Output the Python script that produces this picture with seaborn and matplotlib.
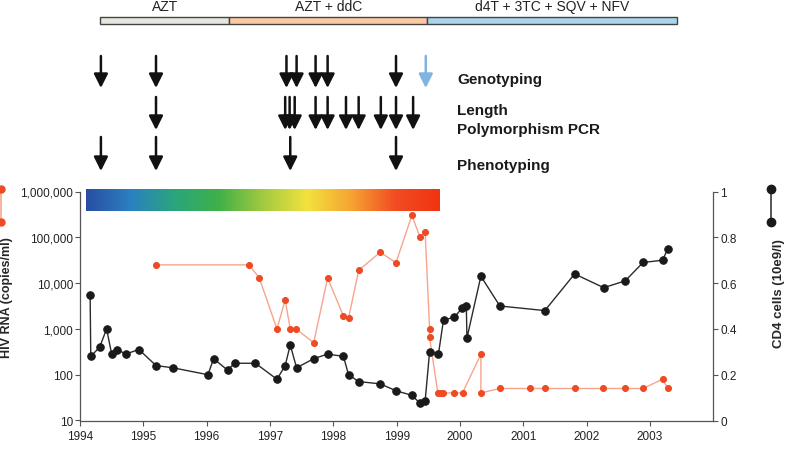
import numpy as np
import matplotlib
matplotlib.use("Agg")
import matplotlib.pyplot as plt
import seaborn as sns
from matplotlib.patches import Rectangle
from matplotlib.lines import Line2D
from matplotlib.colors import LinearSegmentedColormap
from matplotlib.transforms import blended_transform_factory
from matplotlib.ticker import NullLocator

# ---------------- data ----------------
cd4_years = [1994.16, 1994.17, 1994.31, 1994.42, 1994.50, 1994.59, 1994.72, 1994.93,
             1995.20, 1995.47, 1996.02, 1996.11, 1996.33, 1996.44, 1996.77, 1997.11,
             1997.24, 1997.32, 1997.42, 1997.69, 1997.91, 1998.16, 1998.24, 1998.40,
             1998.74, 1998.99, 1999.24, 1999.37, 1999.45, 1999.52, 1999.66, 1999.74,
             1999.91, 2000.03, 2000.10, 2000.11, 2000.33, 2000.63, 2001.34, 2001.81,
             2002.27, 2002.61, 2002.89, 2003.20, 2003.28]
cd4_vals = [0.55, 0.28, 0.32, 0.40, 0.29, 0.31, 0.29, 0.31, 0.24, 0.23, 0.20, 0.27,
            0.22, 0.25, 0.25, 0.18, 0.24, 0.33, 0.23, 0.27, 0.29, 0.28, 0.20, 0.17,
            0.16, 0.13, 0.11, 0.075, 0.085, 0.30, 0.29, 0.44, 0.45, 0.49, 0.50, 0.36,
            0.63, 0.50, 0.48, 0.64, 0.58, 0.61, 0.69, 0.70, 0.75]

rna_years = [1995.20, 1996.67, 1996.83, 1997.11, 1997.24, 1997.32, 1997.41, 1997.69,
             1997.91, 1998.16, 1998.24, 1998.40, 1998.74, 1998.99, 1999.24, 1999.37,
             1999.45, 1999.52, 1999.52, 1999.65, 1999.70, 1999.73, 1999.91, 2000.04,
             2000.33, 2000.33, 2000.63, 2001.11, 2001.34, 2001.81, 2002.26, 2002.61,
             2002.89, 2003.20, 2003.28]
rna_vals = [25000, 25000, 13000, 1000, 4300, 1000, 1000, 500, 13000, 1900, 1700,
            19000, 47000, 28000, 300000, 100000, 130000, 1000, 650, 40, 40, 40, 40,
            40, 280, 40, 50, 50, 50, 50, 50, 50, 50, 80, 50]

therapy_names = ["AZT", "AZT + ddC", "d4T + 3TC + SQV + NFV"]
therapy_bounds = [1994.32, 1996.36, 1999.48, 2003.42]
therapy_colors = ["#e4e8df", "#fcc9a2", "#a9d5ea"]

geno_years = [1994.33, 1995.20, 1997.26, 1997.42, 1997.72, 1997.91, 1998.99, 1999.46]
geno_colors = ["#111111"] * 7 + ["#7fb3e0"]
lppcr_years = [1995.20, 1997.24, 1997.31, 1997.39, 1997.72, 1997.91, 1998.20,
               1998.40, 1998.75, 1998.99, 1999.26]
pheno_years = [1994.33, 1995.20, 1997.32, 1998.99]
row_labels = ["Genotyping", "Length", "Polymorphism PCR", "Phenotyping"]

gradient_span = [1994.10, 1999.68]
gradient_colors = ["#2b4ea2", "#2a80c2", "#2aa67c", "#40b048", "#a2ca40",
                   "#f2e23e", "#f6a432", "#f24c22", "#f03412"]

x_ticks = list(range(1994, 2004))
rna_ticks = [10, 100, 1000, 10000, 100000, 1000000]
rna_tick_labels = ["10", "100", "1,000", "10,000", "100,000", "1,000,000"]
cd4_ticks = [0, 0.2, 0.4, 0.6, 0.8, 1]
cd4_tick_labels = ["0", "0.2", "0.4", "0.6", "0.8", "1"]

# ---------------- style ----------------
sns.set_style("ticks")
plt.rcParams["font.family"] = ["Liberation Sans", "DejaVu Sans"]

W, H = 786, 452
fig = plt.figure(figsize=(W / 100, H / 100), dpi=100)
ax = fig.add_axes([80 / W, 1 - 421.5 / H, 633.3 / W, 229 / H])
ax2 = ax.twinx()

RED_LINE = "#f6a58c"
RED_MK = "#ee4a24"
BLK = "#1a1a1a"
SPINE = "#555555"

ax.set_yscale("log")
sns.lineplot(x=rna_years, y=rna_vals, ax=ax, estimator=None, sort=False,
             color=RED_LINE, lw=1.0, marker="o", markersize=4.3,
             markerfacecolor=RED_MK, markeredgecolor=RED_MK, zorder=3)
sns.lineplot(x=cd4_years, y=cd4_vals, ax=ax2, estimator=None, sort=False,
             color="#2b2b2b", lw=1.0, marker="o", markersize=5.4,
             markerfacecolor=BLK, markeredgecolor=BLK, zorder=3)

cmap = LinearSegmentedColormap.from_list("grad", gradient_colors)
grad = np.linspace(0, 1, 256)[None, :]
ax2.imshow(grad, extent=[gradient_span[0], gradient_span[1], 0.916, 1.011],
           aspect="auto", cmap=cmap, clip_on=False, zorder=1, interpolation="bilinear")

ax.set_xlim(1994, 2004)
ax2.set_xlim(1994, 2004)
ax.set_ylim(10, 1e6)
ax2.set_ylim(0, 1)
ax.set_xticks(x_ticks)
ax.set_xticklabels([str(t) for t in x_ticks])
ax.set_yticks(rna_ticks)
ax.set_yticklabels(rna_tick_labels)
ax.yaxis.set_minor_locator(NullLocator())
ax2.set_yticks(cd4_ticks)
ax2.set_yticklabels(cd4_tick_labels)

for a in (ax, ax2):
    a.tick_params(axis="both", direction="out", length=3.5, width=0.8, color=SPINE,
                  labelsize=8.5, labelcolor="#222222", pad=1.5)
    a.spines["top"].set_visible(False)
    for s in a.spines.values():
        s.set_color(SPINE)
        s.set_linewidth(0.9)
ax.tick_params(axis="x", pad=3)
ax.spines["right"].set_visible(False)
ax2.spines["left"].set_visible(False)
ax2.spines["bottom"].set_visible(False)

ax.set_xlabel("")
ax.set_ylabel("HIV RNA (copies/ml)", fontsize=9, fontweight="bold")
ax.yaxis.set_label_coords(-0.106, 0.54)
ax2.set_ylabel("CD4 cells (10e9/l)", fontsize=9.5, fontweight="bold")
ax2.yaxis.set_label_coords(1.094, 0.56)

# ---------------- therapy bar ----------------
trans = blended_transform_factory(ax.transData, fig.transFigure)
for name, x0, x1, c in zip(therapy_names, therapy_bounds[:-1], therapy_bounds[1:], therapy_colors):
    rect = Rectangle((x0, 1 - 24.5 / H), x1 - x0, 7 / H, transform=trans,
                     facecolor=c, edgecolor="#444444", lw=1.0, clip_on=False)
    fig.add_artist(rect)
    ax.text((x0 + x1) / 2, 1 - 7 / H, name, transform=trans, ha="center",
            va="center", fontsize=10, color="#222222", clip_on=False)

# ---------------- arrows ----------------
def draw_arrows(years, colors, y_tail, y_head):
    for x, c in zip(years, colors):
        ax.annotate("", xy=(x, 1 - y_head / H), xytext=(x, 1 - y_tail / H),
                    xycoords=trans, textcoords=trans, annotation_clip=False,
                    arrowprops=dict(arrowstyle="-|>,head_length=0.6,head_width=0.3",
                                    mutation_scale=14, color=c, lw=1.8,
                                    shrinkA=0, shrinkB=0))

draw_arrows(geno_years, geno_colors, 57, 89)
draw_arrows(lppcr_years, ["#111111"] * len(lppcr_years), 98, 131)
draw_arrows(pheno_years, ["#111111"] * len(pheno_years), 138, 172)

for lbl, yy in zip(row_labels, [80, 111, 130, 166]):
    fig.text(457 / W, 1 - yy / H, lbl, fontsize=11, fontweight="bold",
             va="center", ha="left", color="#1a1a1a")

# ---------------- legend glyphs ----------------
fig.add_artist(Line2D([1 / W, 1 / W], [1 - 190 / H, 1 - 223 / H], transform=fig.transFigure,
                      color=RED_LINE, lw=1.2, marker="o", markersize=5,
                      markerfacecolor=RED_MK, markeredgecolor=RED_MK))
fig.add_artist(Line2D([770.7 / W, 770.7 / W], [1 - 190 / H, 1 - 223 / H], transform=fig.transFigure,
                      color="#3a3a3a", lw=1.2, marker="o", markersize=6,
                      markerfacecolor=BLK, markeredgecolor=BLK))

fig.savefig("out.png", dpi=100)
